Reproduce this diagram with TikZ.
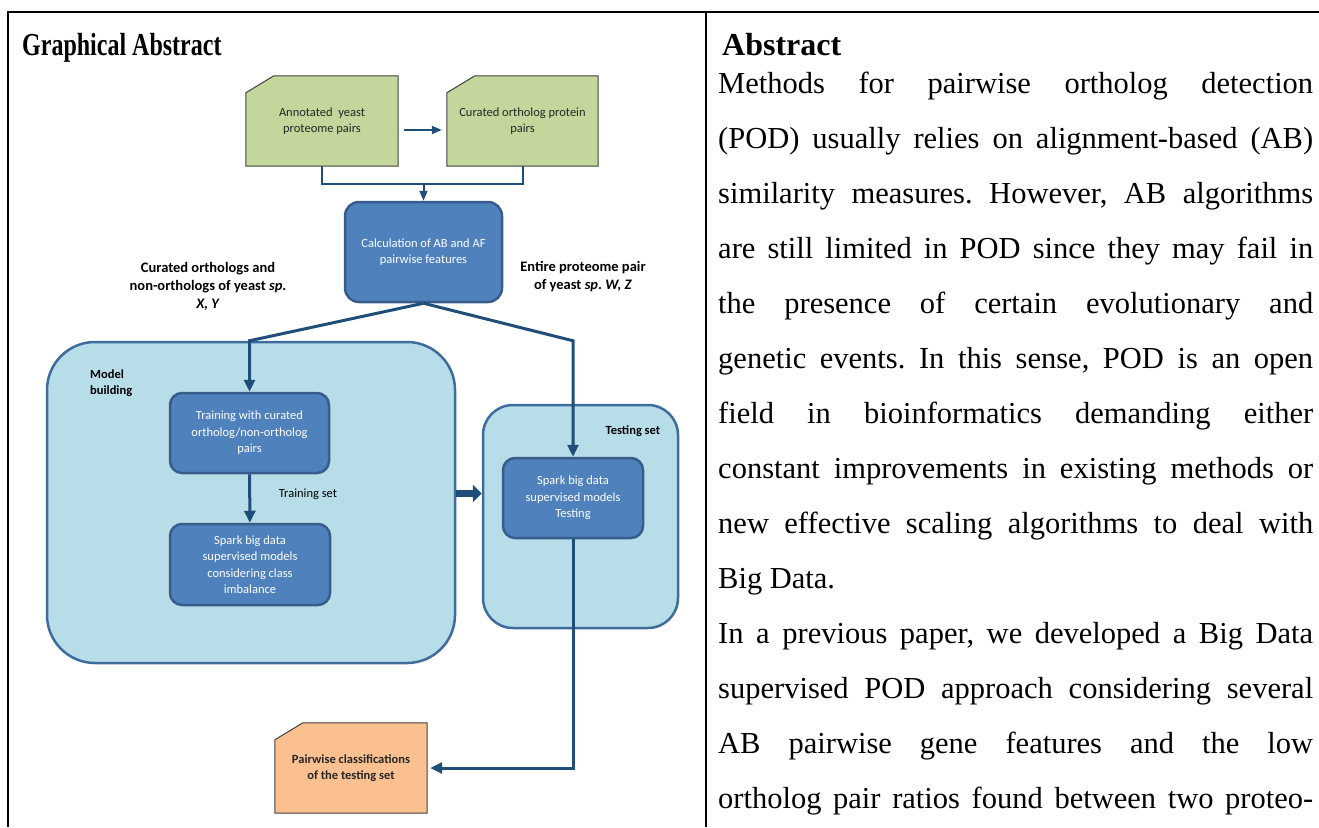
\documentclass[tikz,border=0pt]{standalone}
\usepackage{fontspec}
\setmainfont{Liberation Serif}
\newfontfamily\calibri{Carlito}
\newfontfamily\narrowserif[FakeStretch=0.75]{Liberation Serif}
\usetikzlibrary{arrows.meta,backgrounds}
\definecolor{leafgreen}{HTML}{C3D69B}
\definecolor{outorange}{HTML}{FAC090}
\definecolor{procblue}{HTML}{4F81BD}
\definecolor{procedge}{HTML}{385D8A}
\definecolor{poolblue}{HTML}{B7DEE8}
\definecolor{pooledge}{HTML}{3E6C9C}
\definecolor{flownavy}{HTML}{1F4E79}
\setlength{\parindent}{0pt}
\frenchspacing
\tikzset{rule/.style={draw=black,line width=2.8pt},
  heading/.style={inner sep=0pt,font=\bfseries\fontsize{32}{38}\selectfont},
  bodytext/.style={inner sep=0pt,text width=595pt,align=justify,font=\fontsize{30.5}{55}\selectfont},
  cardtext/.style={inner sep=0pt,minimum width=152pt,minimum height=90pt,align=center,
    text=black!85,font=\calibri\fontsize{12.5}{16}\selectfont},
  card/.style={draw=black!75,line width=1pt},
  process/.style={draw=procedge,fill=procblue,line width=2.5pt,rounded corners=12pt,
    inner sep=0pt,align=center,text=white,font=\calibri\fontsize{12.5}{16.5}\selectfont},
  pool/.style={draw=pooledge,fill=poolblue,line width=2.5pt,inner sep=0pt},
  caption/.style={inner sep=0pt,align=center,font=\calibri\bfseries\fontsize{14.5}{18}\selectfont},
  smallcaption/.style={inner sep=0pt,align=left,font=\calibri\bfseries\fontsize{12.5}{16}\selectfont},
  flow/.style={draw=flownavy,line width=3pt,-{Triangle[length=12pt,width=11pt]}},
  thinflow/.style={draw=flownavy,line width=2pt,-{Triangle[length=10pt,width=8pt]}},
  bigflow/.style={draw=flownavy,line width=7pt,-{Triangle[length=9pt,width=17pt]}}}

\begin{document}
\begin{tikzpicture}[x=1pt,y=-1pt]
  \useasboundingbox (0,0) rectangle (1319,827);
  % table frame
  \draw[rule] (8,827) -- (8,12) -- (1319,12);
  \draw[rule] (706,12) -- (706,827);
  \node[heading,anchor=base west] (gahead) at (22,55) {\narrowserif\bfseries Graphical Abstract};
  \node[heading,anchor=base west] (abhead) at (722,55) {Abstract};
  \node[bodytext,anchor=north west] (abbody) at (718,72) {\hyphenpenalty=10000
    \exhyphenpenalty=10000 \tolerance=9999
    Methods for pairwise ortholog detection\linebreak
    (POD) usually relies on alignment-based (AB)\linebreak
    similarity measures. However, AB algorithms\linebreak
    are still limited in POD since they may fail in\linebreak
    the presence of certain evolutionary and\linebreak
    genetic events. In this sense, POD is an open\linebreak
    field in bioinformatics demanding either\linebreak
    constant improvements in existing methods or\linebreak
    new effective scaling algorithms to deal with\linebreak
    Big Data.\par
    In a previous paper, we developed a Big Data\linebreak
    supervised POD approach considering several\linebreak
    AB pairwise gene features and the low\linebreak
    ortholog pair ratios found between two proteo-\parfillskip=0pt\par};

  % input and output cards
  \node[cardtext] (annot) at (322,121) {Annotated\ \ yeast\\proteome pairs};
  \node[cardtext,minimum width=151pt] (curated) at (522.5,121) {Curated ortholog protein\\pairs};
  \node[cardtext,font=\calibri\bfseries\fontsize{12.5}{16}\selectfont] (pairwise) at (351,768)
    {Pairwise classifications\\of the testing set};
  \begin{scope}[on background layer]
    \foreach \n/\c in {annot/leafgreen,curated/leafgreen,pairwise/outorange}
      \draw[card,fill=\c] (\n.north west) ++(0,17) -- ++(28,-17) -- (\n.north east)
        -- (\n.south east) -- (\n.south west) -- cycle;
  \end{scope}

  % model building and testing
  \node[pool,rounded corners=48pt,minimum width=408pt,minimum height=321pt] (model) at (251,502.5) {};
  \node[pool,rounded corners=30pt,minimum width=195pt,minimum height=223pt] (testset) at (580.5,516.5) {};
  \node[process,rounded corners=14pt,minimum width=157pt,minimum height=100pt] (calc) at (423.5,252)
    {Calculation of AB and AF\\pairwise features};
  \node[process,minimum width=159pt,minimum height=80pt] (train) at (249.5,433)
    {Training with curated\\ortholog/non-ortholog\\pairs};
  \node[process,minimum width=160pt,minimum height=81pt] (sparkfit) at (250,564.5)
    {Spark big data\\supervised models\\considering class\\imbalance};
  \node[process,minimum width=140pt,minimum height=80pt] (sparktest) at (573,498)
    {Spark big data\\supervised models\\Testing};

  \node[smallcaption,anchor=north west] (modellabel) at (90,370) {Model\\building};
  \node[smallcaption] (testlabel) at (633,431) {Testing set};
  \node[smallcaption,font=\calibri\fontsize{12.5}{16}\selectfont] (trainlabel) at (308,494) {Training set};
  \node[caption] (leftcap) at (208,286) {Curated orthologs and\\non-orthologs of yeast \textit{sp}.\\\textit{X, Y}};
  \node[caption] (rightcap) at (583,277) {Entire proteome pair\\of yeast \textit{sp}. \textit{W, Z}};

  % connectors
  \draw[thinflow] ([xshift=6pt,yshift=-9pt]annot.east) -- ([xshift=-5pt,yshift=-9pt]curated.west);
  \path (annot.south) ++(0,18) coordinate (merge);
  \draw[draw=flownavy,line width=2pt] (annot.south) -- (merge) -| (curated.south);
  \draw[thinflow] (merge -| calc.north) -- (calc.north);
  \draw[flow] (calc.south) -- (train.north |- model.north) -- (train.north);
  \draw[flow] (calc.south) -- (sparktest.north |- model.north) -- (sparktest.north);
  \draw[flow] (train) -- (sparkfit);
  \draw[bigflow] ([yshift=9pt]model.east) -- ([yshift=9pt]model.east -| testset.west);
  \draw[flow,shorten >=3pt] (sparktest.south) |- (pairwise.east);
\end{tikzpicture}
\end{document}
